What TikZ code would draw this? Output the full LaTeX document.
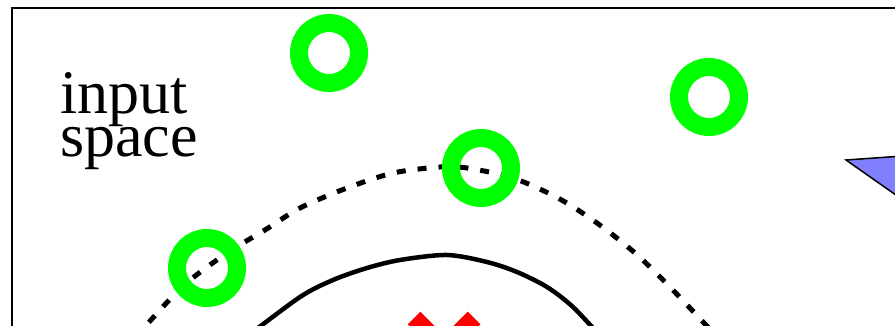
\documentclass[tikz,border=0pt]{standalone}
\usepackage{fontspec}
\setmainfont{Liberation Serif}
\usepackage{tikz}
\usetikzlibrary{positioning,calc}
\definecolor{ringgreen}{HTML}{00FF00}
\definecolor{crossred}{HTML}{FF0000}
\definecolor{planeblue}{HTML}{8080FF}

\begin{document}
\begin{tikzpicture}[
  x=1pt,y=-1pt,
  ring/.style={circle,draw=ringgreen,line width=18pt,minimum size=60pt,inner sep=0pt},
  bound/.style={line width=5pt,dash pattern=on 9pt off 12pt},
  sep/.style={line width=4.5pt},
  cross/.style={draw=crossred,line width=18pt}
]
  \useasboundingbox (0,0) rectangle (895,326);
  \clip (0,0) rectangle (895,326);
  \draw[line width=2.5pt] (12,600) -- (12,8) -- (1200,8);
  % label
  \node[anchor=base west,inner sep=0pt,align=left,font=\fontsize{62}{40}\selectfont] (lbl) at (60,157) {input\\space};
  % margin and separating boundary
  \draw[bound] plot[smooth] coordinates {(135,338) (182,287) (227,253) (265,230) (300,208) (347,188) (393,173) (440,167) (467,168) (513,178) (558,198) (597,223) (635,253) (670,287) (718,338)};
  \draw[sep] plot[smooth] coordinates {(245,338) (300,297) (333,280) (367,268) (400,260) (447,255) (487,262) (517,272) (547,287) (573,307) (602,338)};
  % positive examples
  \node[ring] (p1) at (329,53) {};
  \node[ring] (p2) at (709,97) {};
  \node[ring] (p3) at (481,168) {};
  \node[ring] (p4) at (207,268) {};
  % negative example
  \coordinate (n1) at (444,348);
  \draw[cross] ($(n1)+(-30,-30)$) -- ($(n1)+(30,30)$);
  \draw[cross] ($(n1)+(30,-30)$) -- ($(n1)+(-30,30)$);
  % feature space plane
  \draw[fill=planeblue,line width=1.5pt] (846,160) -- (960,152) -- (960,240) -- cycle;
\end{tikzpicture}
\end{document}
